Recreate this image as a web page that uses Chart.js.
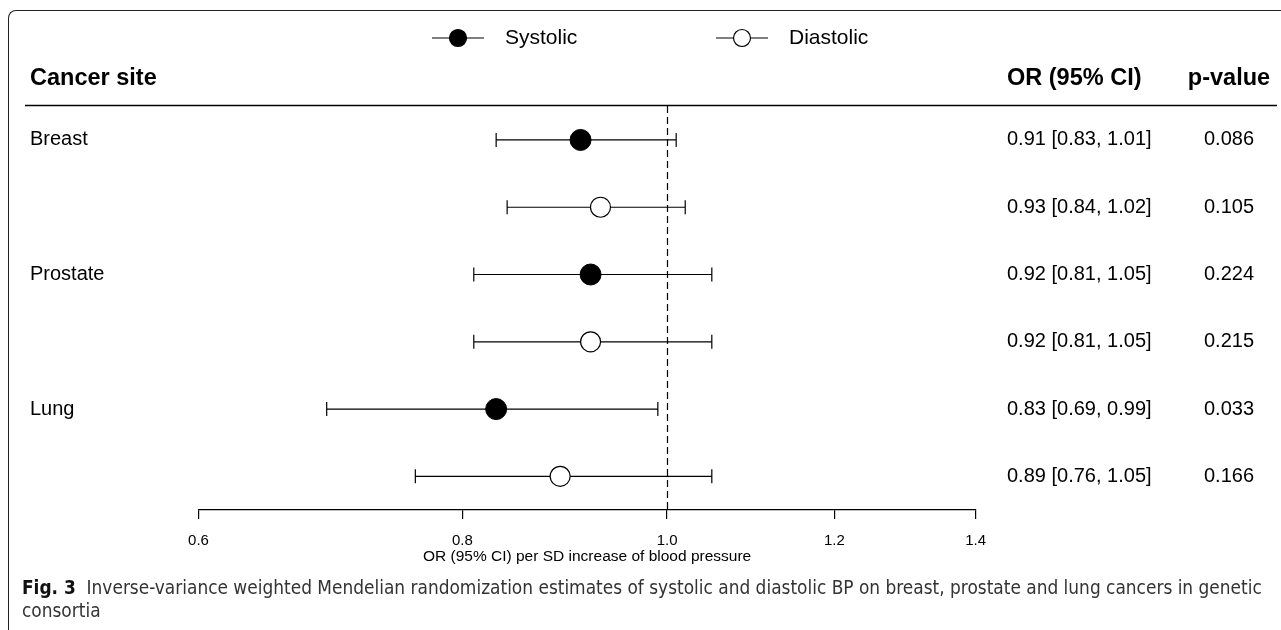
<!DOCTYPE html>
<html>
<head>
<meta charset="utf-8">
<script src="https://cdn.jsdelivr.net/npm/chart.js@4.4.1/dist/chart.umd.min.js"></script>
<style>
  body { margin: 0; background: #fff; }
  #wrap { position: relative; width: 1281px; height: 630px; overflow: hidden; }
  #frame { position: absolute; left: 8px; top: 10px; width: 1300px; height: 640px;
           border-top: 1.2px solid #222; border-left: 1.2px solid #222; border-top-left-radius: 8px; }
  canvas { position: absolute; left: 0; top: 0; }
  #caption { position: absolute; left: 22px; top: 576px; width: 1255px;
             font-family: "Liberation Sans Narrow", "DejaVu Sans Condensed", sans-serif;
             font-size: 18.9px; line-height: 23px; color: #333; white-space: nowrap; }
  #caption b { font-weight: bold; color: #111; }
</style>
</head>
<body>
<div id="wrap">
  <div id="frame"></div>
  <canvas id="forest" width="1281" height="630"></canvas>
  <div id="caption"><b>Fig. 3</b>&nbsp; Inverse-variance weighted Mendelian randomization estimates of systolic and diastolic BP on breast, prostate and lung cancers in genetic<br>consortia</div>
</div>
<script>
// Données
const sites = ['Breast', 'Prostate', 'Lung'];
const systolicOR = [0.91, 0.92, 0.83];
const systolicLow = [0.83, 0.81, 0.69];
const systolicHigh = [1.01, 1.05, 0.99];
const systolicP = ['0.086', '0.224', '0.033'];
const diastolicOR = [0.93, 0.92, 0.89];
const diastolicLow = [0.84, 0.81, 0.76];
const diastolicHigh = [1.02, 1.05, 1.05];
const diastolicP = ['0.105', '0.215', '0.166'];
const xTicks = [0.6, 0.8, 1.0, 1.2, 1.4];

// une ligne par estimation : systolique puis diastolique
const rows = [];
sites.forEach((s, i) => {
    rows.push({ label: s, or: systolicOR[i], lo: systolicLow[i], hi: systolicHigh[i], p: systolicP[i], kind: 'sys' });
    rows.push({ label: '', or: diastolicOR[i], lo: diastolicLow[i], hi: diastolicHigh[i], p: diastolicP[i], kind: 'dia' });
});

const f2 = v => v.toFixed(2);
const FONT = '"Liberation Sans", Arial, sans-serif';

const forestPlugin = {
    id: 'forest',
    beforeDatasetsDraw(chart) {
        const { ctx, scales: { x, y }, chartArea } = chart;
        ctx.save();
        // ligne verticale à OR = 1
        ctx.strokeStyle = '#000';
        ctx.lineWidth = 1.2;
        ctx.setLineDash([7, 4]);
        const x1 = Math.round(x.getPixelForValue(1)) + 0.5;
        ctx.beginPath();
        ctx.moveTo(x1, 106);
        ctx.lineTo(x1, chartArea.bottom);
        ctx.stroke();
        ctx.setLineDash([]);
        // intervalles de confiance
        rows.forEach((r, i) => {
            const py = y.getPixelForValue(i + 1);
            const a = x.getPixelForValue(r.lo);
            const b = x.getPixelForValue(r.hi);
            ctx.beginPath();
            ctx.moveTo(a, py); ctx.lineTo(b, py);
            ctx.moveTo(a, py - 7); ctx.lineTo(a, py + 7);
            ctx.moveTo(b, py - 7); ctx.lineTo(b, py + 7);
            ctx.stroke();
        });
        ctx.restore();
    },
    afterDraw(chart) {
        const { ctx, scales: { y } } = chart;
        ctx.save();
        ctx.fillStyle = '#000';
        ctx.strokeStyle = '#000';
        ctx.textBaseline = 'middle';

        // légende
        ctx.lineWidth = 1.2;
        const legend = [{ x: 458, text: 'Systolic', fill: '#000' }, { x: 742, text: 'Diastolic', fill: '#fff' }];
        legend.forEach(l => {
            ctx.beginPath();
            ctx.moveTo(l.x - 26, 38); ctx.lineTo(l.x + 26, 38);
            ctx.stroke();
            ctx.beginPath();
            ctx.arc(l.x, 38, 8.5, 0, Math.PI * 2);
            ctx.fillStyle = l.fill;
            ctx.fill();
            ctx.stroke();
            ctx.fillStyle = '#000';
            ctx.font = '21px ' + FONT;
            ctx.textAlign = 'left';
            ctx.fillText(l.text, l.x + 47, 38);
        });

        // en-têtes
        ctx.font = 'bold 23.5px ' + FONT;
        ctx.textAlign = 'left';
        ctx.fillText('Cancer site', 30, 79);
        ctx.fillText('OR (95% CI)', 1007, 79);
        ctx.textAlign = 'center';
        ctx.fillText('p-value', 1229, 79);

        ctx.lineWidth = 1.3;
        ctx.beginPath();
        ctx.moveTo(25, 105.5); ctx.lineTo(1277, 105.5);
        ctx.stroke();

        // textes des lignes
        ctx.font = '20px ' + FONT;
        rows.forEach((r, i) => {
            const py = y.getPixelForValue(i + 1);
            ctx.textAlign = 'left';
            if (r.label) ctx.fillText(r.label, 30, py);
            ctx.fillText(f2(r.or) + ' [' + f2(r.lo) + ', ' + f2(r.hi) + ']', 1007, py);
            ctx.textAlign = 'center';
            ctx.fillText(r.p, 1229, py);
        });
        ctx.restore();
    }
};

const ctx = document.getElementById('forest').getContext('2d');
new Chart(ctx, {
    type: 'scatter',
    data: {
        datasets: [
            {
                label: 'Systolic',
                data: rows.map((r, i) => ({ x: r.or, y: i + 1 })).filter((_, i) => rows[i].kind === 'sys'),
                backgroundColor: '#000',
                borderColor: '#000',
                borderWidth: 1,
                pointRadius: 10.5,
                pointHoverRadius: 10.5
            },
            {
                label: 'Diastolic',
                data: rows.map((r, i) => ({ x: r.or, y: i + 1 })).filter((_, i) => rows[i].kind === 'dia'),
                backgroundColor: '#fff',
                borderColor: '#000',
                borderWidth: 1.2,
                pointRadius: 10,
                pointHoverRadius: 10
            }
        ]
    },
    options: {
        responsive: false,
        animation: false,
        events: [],
        layout: { padding: { left: 198.5, right: 305.3, top: 106.3, bottom: 64 } },
        plugins: { legend: { display: false }, tooltip: { enabled: false } },
        scales: {
            x: {
                type: 'logarithmic',
                min: 0.6,
                max: 1.4,
                afterBuildTicks: scale => { scale.ticks = xTicks.map(v => ({ value: v })); },
                afterFit: scale => { scale.height = 56; },
                grid: { drawOnChartArea: false, drawTicks: true, tickLength: 9, color: '#000', lineWidth: 1.2 },
                border: { display: true, color: '#000', width: 1.2 },
                ticks: {
                    color: '#000',
                    padding: 13,
                    maxRotation: 0,
                    autoSkip: false,
                    font: { family: FONT, size: 15 },
                    callback: v => Number(v).toFixed(1)
                },
                title: {
                    display: true,
                    text: 'OR (95% CI) per SD increase of blood pressure',
                    color: '#000',
                    padding: 0,
                    font: { family: FONT, size: 15.5 }
                }
            },
            y: {
                type: 'linear',
                display: false,
                reverse: true,
                min: 0.5,
                max: 6.5
            }
        }
    },
    plugins: [forestPlugin]
});
</script>
</body>
</html>
